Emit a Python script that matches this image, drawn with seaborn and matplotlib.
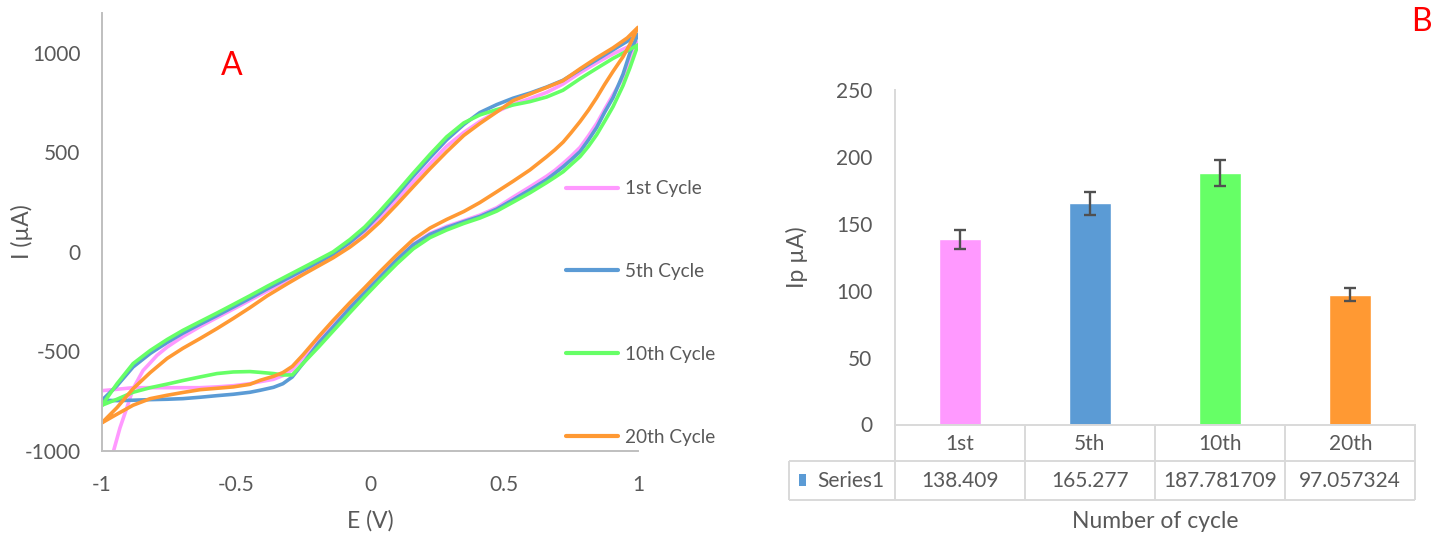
import matplotlib
matplotlib.use("Agg")
import numpy as np
import pandas as pd
import seaborn as sns
import matplotlib.pyplot as plt
from matplotlib.lines import Line2D
from matplotlib.patches import Rectangle
from matplotlib.transforms import blended_transform_factory
from matplotlib.ticker import FormatStrFormatter

# ---------------- Panel A data: cyclic voltammograms ----------------
CYCLE_LABELS = ["1st Cycle", "5th Cycle", "10th Cycle", "20th Cycle"]
CYCLE_COLORS = ["#ff99ff", "#5b9bd5", "#66ff66", "#ff9933"]

# forward (anodic) sweep potentials, V
E_UP = [-1.0, -0.944, -0.884, -0.82, -0.757, -0.698, -0.634, -0.571, -0.51, -0.448,
        -0.384, -0.31, -0.25, -0.19, -0.138, -0.075, -0.02, 0.037, 0.1, 0.161,
        0.224, 0.286, 0.35, 0.41, 0.473, 0.534, 0.597, 0.659, 0.72, 0.784,
        0.846, 0.907, 0.96, 1.0]
# reverse (cathodic) sweep potentials, V
E_DOWN = [1.0, 0.97, 0.944, 0.907, 0.875, 0.846, 0.815, 0.784, 0.75, 0.721,
          0.69, 0.659, 0.597, 0.534, 0.473, 0.41, 0.35, 0.286, 0.224, 0.161,
          0.1, 0.037, -0.02, -0.075, -0.138, -0.19, -0.25, -0.29, -0.325, -0.36,
          -0.41, -0.448, -0.51, -0.571, -0.634, -0.698, -0.757, -0.82, -0.884, -0.944,
          -1.0]

# 1st cycle starts from a strongly negative current
E_UP_1 = [-0.972, -0.959, -0.933, -0.907, -0.884, -0.847, -0.82, -0.795, -0.757, -0.698,
          -0.634, -0.571, -0.51, -0.448, -0.384, -0.31, -0.25, -0.19, -0.138, -0.075,
          -0.02, 0.037, 0.1, 0.161, 0.224, 0.286, 0.35, 0.41, 0.473, 0.534,
          0.597, 0.659, 0.72, 0.784, 0.846, 0.907, 0.96, 1.0]
I_UP_1 = [-1100, -1010, -884, -782, -687, -596, -557, -520, -478, -425,
          -375, -330, -287, -243, -197, -145, -103, -62, -25, 32,
          90, 170, 262, 352, 443, 531, 600, 655, 705, 741,
          770, 801, 843, 900, 950, 995, 1028, 1053]
I_DOWN_1 = [1053, 960, 875, 790, 715, 645, 583, 525, 480, 445,
            410, 380, 327, 275, 222, 185, 157, 128, 93, 38,
            -38, -122, -200, -276, -368, -443, -530, -592, -621, -640,
            -652, -662, -672, -678, -682, -682, -682, -682, -682, -690,
            -697]

I_UP_5 = [-745, -672, -578, -510, -455, -408, -363, -320, -277, -233,
          -186, -134, -92, -50, -12, 48, 110, 190, 285, 380,
          474, 563, 640, 700, 740, 772, 798, 828, 862, 915,
          965, 1015, 1058, 1093]
I_DOWN_5 = [1093, 1000, 892, 775, 700, 625, 562, 504, 462, 428,
            395, 363, 312, 262, 215, 178, 152, 122, 88, 35,
            -40, -128, -205, -282, -378, -455, -560, -628, -662, -680,
            -695, -705, -715, -722, -730, -737, -740, -742, -745, -747,
            -745]

I_UP_10 = [-770, -662, -561, -495, -440, -394, -350, -307, -264, -220,
           -173, -121, -79, -37, 0, 62, 125, 205, 300, 395,
           490, 578, 648, 688, 715, 738, 755, 778, 812, 870,
           922, 972, 1010, 1040]
I_DOWN_10 = [1040, 925, 835, 730, 655, 589, 530, 479, 438, 403,
             375, 348, 297, 250, 205, 170, 143, 110, 72, 15,
             -60, -145, -225, -305, -398, -475, -560, -618, -618, -611,
             -605, -601, -603, -611, -628, -646, -664, -682, -705, -740,
             -770]

I_UP_20 = [-858, -782, -687, -606, -535, -484, -435, -385, -334, -280,
           -221, -161, -114, -69, -30, 24, 80, 150, 238, 327,
           418, 503, 585, 645, 703, 760, 793, 826, 860, 920,
           975, 1025, 1075, 1128]
I_DOWN_20 = [1128, 1043, 980, 907, 840, 775, 712, 655, 598, 552,
             513, 478, 412, 355, 302, 248, 203, 163, 120, 62,
             -15, -100, -180, -255, -345, -423, -517, -575, -606, -625,
             -645, -665, -678, -685, -692, -706, -720, -737, -770, -815,
             -858]

# ---------------- Panel B data: peak currents ----------------
CYCLES = ["1st", "5th", "10th", "20th"]
IP_VALUES = [138.409, 165.277, 187.781709, 97.057324]
IP_ERRORS = [7.0, 8.4, 9.8, 4.8]
BAR_COLORS = ["#ff99ff", "#5b9bd5", "#66ff66", "#ff9933"]

# ---------------- styling ----------------
sns.set_theme(style="white")
plt.rcParams["font.family"] = ["Lato", "DejaVu Sans"]
plt.rcParams["axes.unicode_minus"] = False

TXT = "#595959"
AX_GRAY = "#bfbfbf"
TBL_GRAY = "#d9d9d9"
W, H = 1432, 535

fig = plt.figure(figsize=(W / 100, H / 100), dpi=100)
axA = fig.add_axes([102 / W, (H - 451) / H, 536 / W, 438 / H])
axB = fig.add_axes([894.6 / W, (H - 424.5) / H, 520.8 / W, 334.5 / H])

# ---------------- Panel A ----------------
frames = []
for lab, eu, iu, ed, idn in [
    (CYCLE_LABELS[0], E_UP_1, I_UP_1, E_DOWN, I_DOWN_1),
    (CYCLE_LABELS[1], E_UP, I_UP_5, E_DOWN, I_DOWN_5),
    (CYCLE_LABELS[2], E_UP, I_UP_10, E_DOWN, I_DOWN_10),
    (CYCLE_LABELS[3], E_UP, I_UP_20, E_DOWN, I_DOWN_20),
]:
    e = list(eu) + list(ed)
    i = list(iu) + list(idn)
    frames.append(pd.DataFrame({"E": e, "I": i, "Cycle": lab, "step": range(len(e))}))
cv = pd.concat(frames, ignore_index=True)

sns.lineplot(data=cv, x="E", y="I", hue="Cycle", hue_order=CYCLE_LABELS,
             palette=CYCLE_COLORS, sort=False, estimator=None, lw=2.6,
             legend=False, ax=axA, solid_joinstyle="round", solid_capstyle="round")

axA.set_xlim(-1, 1)
axA.set_ylim(-1000, 1200)
axA.set_xticks([-1, -0.5, 0, 0.5, 1])
axA.set_yticks([-1000, -500, 0, 500, 1000])
axA.xaxis.set_major_formatter(FormatStrFormatter("%g"))
axA.yaxis.set_major_formatter(FormatStrFormatter("%g"))
axA.tick_params(axis="x", length=0, pad=17, labelsize=15, labelcolor=TXT)
axA.tick_params(axis="y", length=0, pad=15.5, labelsize=15, labelcolor=TXT)
for s in ["top", "right"]:
    axA.spines[s].set_visible(False)
for s in ["left", "bottom"]:
    axA.spines[s].set_color(AX_GRAY)
    axA.spines[s].set_linewidth(1.4)
axA.set_xlabel("E (V)", fontsize=16.5, color=TXT, va="center")
axA.xaxis.set_label_coords(0.5, (451 - 521) / 438)
axA.set_ylabel("I (µA)", fontsize=16.5, color=TXT, va="center")
axA.yaxis.set_label_coords((22 - 102) / 536, 0.5)

handles = [Line2D([], [], color=c, lw=3.0) for c in CYCLE_COLORS]
fig.legend(handles, CYCLE_LABELS, loc="center left",
           bbox_to_anchor=(566 / W, 1 - 313 / H), bbox_transform=fig.transFigure,
           frameon=False, fontsize=13.7, labelcolor=TXT, borderpad=0, borderaxespad=0,
           handlelength=2.73, handletextpad=0.37, labelspacing=3.46)

fig.text(232 / W, 1 - 75 / H, "A", color="#ff0000", fontsize=23, ha="center", va="baseline")
fig.text(1421 / W, 1 - 31 / H, "B", color="#ff0000", fontsize=23, ha="center", va="baseline")

# ---------------- Panel B ----------------
sns.barplot(x=CYCLES, y=IP_VALUES, hue=CYCLES, palette=BAR_COLORS, order=CYCLES,
            hue_order=CYCLES, dodge=False, width=0.323, saturation=1, legend=False,
            errorbar=None, ax=axB)
axB.errorbar(x=np.arange(len(CYCLES)), y=IP_VALUES, yerr=IP_ERRORS, fmt="none",
             ecolor="#505050", elinewidth=1.7, capsize=4.5, capthick=1.7)

axB.set_xlim(-0.5, len(CYCLES) - 0.5)
axB.set_ylim(0, 250)
axB.set_yticks([0, 50, 100, 150, 200, 250])
axB.set_xticks([])
axB.tick_params(axis="y", length=0, pad=16, labelsize=15, labelcolor=TXT)
for s in ["top", "right"]:
    axB.spines[s].set_visible(False)
for s in ["left", "bottom"]:
    axB.spines[s].set_color(TBL_GRAY)
    axB.spines[s].set_linewidth(1.4)
axB.set_ylabel("Ip µA)", fontsize=16.5, color=TXT, va="center")
axB.yaxis.set_label_coords((797 - 894.6) / 520.8, 0.5)
axB.set_xlabel("Number of cycle", fontsize=16.5, color=TXT, va="center")
axB.xaxis.set_label_coords(0.5, (424.5 - 521.7) / 334.5)

# data table under the bars
trans = blended_transform_factory(axB.transData, axB.transAxes)
cat_w = 520.8 / len(CYCLES)
x_left = -0.5 - (894.6 - 789) / cat_w
y_row = (424.5 - 461) / 334.5
y_bot = (424.5 - 500) / 334.5
n = len(CYCLES)
kw = dict(color=TBL_GRAY, lw=1.4, transform=trans, clip_on=False, solid_capstyle="butt")
axB.plot([x_left, n - 0.5], [y_row, y_row], **kw)
axB.plot([x_left, n - 0.5], [y_bot, y_bot], **kw)
axB.plot([x_left, x_left], [y_row, y_bot], **kw)
for xb in np.arange(n + 1) - 0.5:
    axB.plot([xb, xb], [0, y_bot], **kw)

y_cat = (424.5 - 449.7) / 334.5
y_val = (424.5 - 487) / 334.5
for i, (lab, v) in enumerate(zip(CYCLES, IP_VALUES)):
    axB.text(i, y_cat, lab, ha="center", va="baseline", fontsize=15, color=TXT, transform=trans)
    axB.text(i, y_val, str(v), ha="center", va="baseline", fontsize=15, color=TXT, transform=trans)
axB.text(-0.5 - (894.6 - 817) / cat_w, y_val, "Series1", ha="left", va="baseline",
         fontsize=15, color=TXT, transform=trans)
fig.add_artist(Rectangle((799 / W, 1 - 486 / H), 7 / W, 12 / H,
                         transform=fig.transFigure, color="#5b9bd5", lw=0))

fig.savefig("out.png", dpi=100)
